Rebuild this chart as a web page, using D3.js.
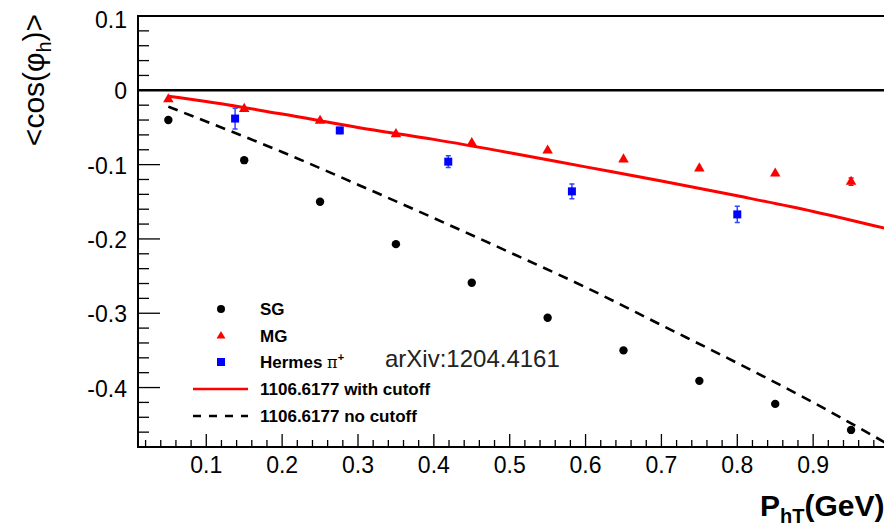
<!DOCTYPE html>
<html>
<head>
<meta charset="utf-8">
<script src="https://d3js.org/d3.v7.min.js"></script>
<style>
  body { margin: 0; background: #fff; }
  svg { display: block; }
  text { font-family: "Liberation Sans", Arial, Helvetica, sans-serif; }
</style>
</head>
<body>
<script>
// SG and MG points
var binX = [0.05, 0.15, 0.25, 0.35, 0.45, 0.55, 0.65, 0.75, 0.85, 0.95];
var sgY  = [-0.040, -0.094, -0.150, -0.207, -0.259, -0.306, -0.350, -0.391, -0.422, -0.457];
var mgY  = [-0.012, -0.025, -0.041, -0.059, -0.071, -0.081, -0.093, -0.105, -0.112, -0.123];
var mgErr = [0, 0, 0, 0, 0, 0, 0, 0, 0, 0.005];

// Hermes pi+ data
var hermesX   = [0.138, 0.276, 0.419, 0.582, 0.800];
var hermesY   = [-0.038, -0.054, -0.096, -0.136, -0.167];
var hermesErr = [0.014, 0.004, 0.008, 0.010, 0.011];

// theory curves (1106.6177)
var curveX      = [0.05, 0.1, 0.2, 0.3, 0.4, 0.5, 0.6, 0.7, 0.8, 0.9, 1.0];
var cutoffY     = [-0.008, -0.015, -0.032, -0.050, -0.066, -0.084, -0.103, -0.122, -0.142, -0.163, -0.187];
var noCutoffY   = [-0.022, -0.042, -0.083, -0.127, -0.172, -0.218, -0.265, -0.316, -0.367, -0.420, -0.477];

var xTicks = [0.1, 0.2, 0.3, 0.4, 0.5, 0.6, 0.7, 0.8, 0.9];
var yTicks = [0.1, 0, -0.1, -0.2, -0.3, -0.4];

var svg = d3.select("body")
      .append("svg")
      .attr("width", 884)
      .attr("height", 524)

var pLeft = 138, pRight = 889, pTop = 16, pBottom = 447;

var x = d3.scaleLinear().domain([0.01, 1.0]).range([pLeft, pRight]);
var y = d3.scaleLinear().domain([-0.48, 0.1]).range([pBottom, pTop]);

svg.append("clipPath").attr("id", "frame")
  .append("rect")
  .attr("x", pLeft).attr("y", pTop)
  .attr("width", pRight - pLeft).attr("height", pBottom - pTop);

function isMajor(d) { return Math.abs(d * 10 - Math.round(d * 10)) < 1e-6 }

// ticks: major ones longer, drawn inside the frame
var yMinor = d3.range(-0.48, 0.1001, 0.02);
svg.append("g").selectAll("line")
  .data(yMinor)
  .enter().append("line")
  .attr("x1", pLeft)
  .attr("x2", function(d){ return isMajor(d) ? pLeft + 22 : pLeft + 11 })
  .attr("y1", function(d){ return y(d) })
  .attr("y2", function(d){ return y(d) })
  .attr("stroke", "#000").attr("stroke-width", 1.3);

var xMinor = d3.range(0.02, 1.0001, 0.02);
svg.append("g").selectAll("line")
  .data(xMinor)
  .enter().append("line")
  .attr("y1", pBottom)
  .attr("y2", function(d){ return isMajor(d) ? pBottom - 13 : pBottom - 7 })
  .attr("x1", function(d){ return x(d) })
  .attr("x2", function(d){ return x(d) })
  .attr("stroke", "#000").attr("stroke-width", 1.3);

// tick labels
svg.append("g").selectAll("text")
  .data(yTicks)
  .enter().append("text")
  .attr("x", 127)
  .attr("y", function(d){ return d === 0.1 ? y(d) + 12 : y(d) + 9 })
  .attr("text-anchor", "end")
  .attr("font-size", 23)
  .text(function(d){ return d === 0 ? "0" : d3.format(".1f")(d).replace("−", "-") });

svg.append("g").selectAll("text")
  .data(xTicks)
  .enter().append("text")
  .attr("x", function(d){ return x(d) })
  .attr("y", 473)
  .attr("text-anchor", "middle")
  .attr("font-size", 23)
  .text(function(d){ return d3.format(".1f")(d) });

// frame
svg.append("line").attr("x1", pLeft).attr("x2", pLeft).attr("y1", pTop - 1).attr("y2", pBottom + 1)
  .attr("stroke", "#000").attr("stroke-width", 2);
svg.append("line").attr("x1", pLeft).attr("x2", pRight).attr("y1", pBottom).attr("y2", pBottom)
  .attr("stroke", "#000").attr("stroke-width", 2);
svg.append("line").attr("x1", pLeft).attr("x2", pRight).attr("y1", pTop).attr("y2", pTop)
  .attr("stroke", "#000").attr("stroke-width", 2);

// zero line
svg.append("line").attr("x1", pLeft).attr("x2", pRight).attr("y1", y(0)).attr("y2", y(0))
  .attr("stroke", "#000").attr("stroke-width", 2.5);

// curves
var line = d3.line()
  .x(function(d){ return x(d[0]) })
  .y(function(d){ return y(d[1]) })
  .curve(d3.curveMonotoneX);

var plot = svg.append("g").attr("clip-path", "url(#frame)");

plot.append("path")
  .datum(curveX.map(function(v, i){ return [v, noCutoffY[i]] }))
  .attr("d", line)
  .attr("fill", "none").attr("stroke", "#000")
  .attr("stroke-width", 2.6).attr("stroke-dasharray", "10,7");

plot.append("path")
  .datum(curveX.map(function(v, i){ return [v, cutoffY[i]] }))
  .attr("d", line)
  .attr("fill", "none").attr("stroke", "#ff0000")
  .attr("stroke-width", 3);

// SG points
plot.append("g").selectAll("circle")
  .data(binX.map(function(v, i){ return [v, sgY[i]] }))
  .enter().append("circle")
  .attr("r", 4.2)
  .attr("cx", function(d){ return x(d[0]) })
  .attr("cy", function(d){ return y(d[1]) })
  .attr("fill", "#000");

function errPath(d) {
  var cx = x(d[0]), y1 = y(d[1] + d[2]), y2 = y(d[1] - d[2]);
  return "M" + cx + "," + y1 + "V" + y2 + "M" + (cx - 2.5) + "," + y1 + "H" + (cx + 2.5) + "M" + (cx - 2.5) + "," + y2 + "H" + (cx + 2.5);
}

// MG points
var tri = d3.symbol().type(d3.symbolTriangle).size(48);
var mg = binX.map(function(v, i){ return [v, mgY[i], mgErr[i]] });
plot.append("g").selectAll("path")
  .data(mg.filter(function(d){ return d[2] > 0 }))
  .enter().append("path")
  .attr("d", errPath)
  .attr("stroke", "#ff0000").attr("stroke-width", 1.3).attr("fill", "none");
plot.append("g").selectAll("path")
  .data(mg)
  .enter().append("path")
  .attr("d", tri)
  .attr("transform", function(d){ return "translate(" + x(d[0]) + "," + y(d[1]) + ")" })
  .attr("fill", "#ff0000");

// Hermes points with error bars
var hermes = hermesX.map(function(v, i){ return [v, hermesY[i], hermesErr[i]] });
plot.append("g").selectAll("path")
  .data(hermes)
  .enter().append("path")
  .attr("d", errPath)
  .attr("stroke", "#3344ff").attr("stroke-width", 1.5).attr("fill", "none");
plot.append("g").selectAll("rect")
  .data(hermes)
  .enter().append("rect")
  .attr("x", function(d){ return x(d[0]) - 4 })
  .attr("y", function(d){ return y(d[1]) - 4 })
  .attr("width", 8).attr("height", 8)
  .attr("fill", "#0000ff");

// legend
var lg = svg.append("g");
var rowY = [309, 336, 362, 389, 416];
var lx = 221, tx = 260;
lg.append("circle").attr("cx", lx).attr("cy", rowY[0]).attr("r", 4).attr("fill", "#000");
lg.append("path").attr("d", d3.symbol().type(d3.symbolTriangle).size(34))
  .attr("transform", "translate(" + lx + "," + rowY[1] + ")").attr("fill", "#ff0000");
lg.append("rect").attr("x", lx - 4).attr("y", rowY[2] - 4).attr("width", 8).attr("height", 8).attr("fill", "#0000ff");
lg.append("line").attr("x1", 193).attr("x2", 248).attr("y1", rowY[3]).attr("y2", rowY[3])
  .attr("stroke", "#ff0000").attr("stroke-width", 2.6);
lg.append("line").attr("x1", 193).attr("x2", 248).attr("y1", rowY[4]).attr("y2", rowY[4])
  .attr("stroke", "#000").attr("stroke-width", 2.6).attr("stroke-dasharray", "8,8");

var legendText = ["SG", "MG", "Hermes ", "1106.6177 with cutoff", "1106.6177 no cutoff"];
var labels = lg.selectAll("text.lab")
  .data(legendText)
  .enter().append("text")
  .attr("class", "lab")
  .attr("x", tx)
  .attr("y", function(d, i){ return rowY[i] + 6 })
  .attr("font-size", 17)
  .attr("font-weight", "bold")
  .text(function(d){ return d });

var hermesLab = labels.filter(function(d, i){ return i === 2 });
hermesLab.append("tspan").attr("font-family", "'DejaVu Serif', serif").attr("font-weight", "normal").attr("font-size", 16).text("π");
hermesLab.append("tspan").attr("dy", -7).attr("font-size", 11).text("+");

svg.append("text")
  .attr("x", 385).attr("y", 367)
  .attr("font-family", "Lato, 'Open Sans', sans-serif")
  .attr("font-size", 24)
  .attr("fill", "#222")
  .text("arXiv:1204.4161");

// axis titles
var yt = svg.append("text")
  .attr("transform", "translate(44,80) rotate(-90)")
  .attr("text-anchor", "middle")
  .attr("font-size", 30);
yt.append("tspan").text("<cos(φ");
yt.append("tspan").attr("font-size", 20).attr("dy", 7).text("h");
yt.append("tspan").attr("dy", -7).text(")>");

var xt = svg.append("text")
  .attr("x", 760).attr("y", 516)
  .attr("font-size", 30)
  .attr("font-weight", "bold");
xt.append("tspan").text("P");
xt.append("tspan").attr("font-size", 20).attr("dy", 7).text("hT");
xt.append("tspan").attr("dy", -7).text("(GeV)");
</script>
</body>
</html>
